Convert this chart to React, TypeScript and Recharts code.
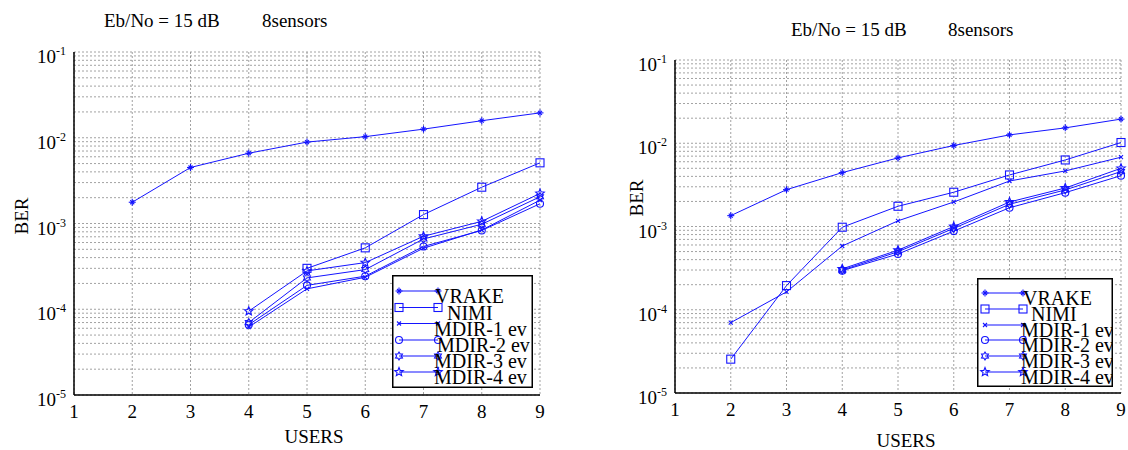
import React from "react";
import { LineChart, Line, XAxis, YAxis, CartesianGrid } from "recharts";

const users = [2, 3, 4, 5, 6, 7, 8, 9];
const xTicks = [1, 2, 3, 4, 5, 6, 7, 8, 9];
const decades = [1e-5, 1e-4, 1e-3, 1e-2, 1e-1];
const minorSteps = [1, 2, 3, 4, 5, 6, 7, 8, 9];

const seriesKeys = ["vrake", "nimi", "mdir1", "mdir2", "mdir3", "mdir4"];
const seriesNames = ["VRAKE", "NIMI", "MDIR-1 ev", "MDIR-2 ev", "MDIR-3 ev", "MDIR-4 ev"];
const seriesMarks = ["plus", "square", "cross", "circle", "hexagram", "pentagram"];

// left panel
const vrakeA = [1.77e-3, 4.5e-3, 6.6e-3, 8.9e-3, 1.03e-2, 1.26e-2, 1.58e-2, 1.95e-2];
const nimiA = [null, null, null, 3.0e-4, 5.2e-4, 1.27e-3, 2.65e-3, 5.1e-3];
const mdir1A = [null, null, 6.2e-5, 1.73e-4, 2.36e-4, 5.15e-4, 8.4e-4, 1.87e-3];
const mdir2A = [null, null, 6.6e-5, 1.9e-4, 2.43e-4, 5.4e-4, 8.3e-4, 1.7e-3];
const mdir3A = [null, null, 7.0e-5, 2.32e-4, 2.9e-4, 6.6e-4, 9.8e-4, 2.05e-3];
const mdir4A = [null, null, 9.5e-5, 2.8e-4, 3.5e-4, 7.1e-4, 1.06e-3, 2.24e-3];

// right panel
const vrakeB = [1.35e-3, 2.77e-3, 4.44e-3, 6.67e-3, 9.4e-3, 1.26e-2, 1.53e-2, 1.95e-2];
const nimiB = [2.55e-5, 1.95e-4, 9.8e-4, 1.75e-3, 2.58e-3, 4.16e-3, 6.3e-3, 1.02e-2];
const mdir1B = [7.0e-5, 1.64e-4, 5.83e-4, 1.17e-3, 1.97e-3, 3.52e-3, 4.65e-3, 6.8e-3];
const mdir2B = [null, null, 2.95e-4, 4.67e-4, 8.8e-4, 1.68e-3, 2.55e-3, 4.08e-3];
const mdir3B = [null, null, 3.0e-4, 4.98e-4, 9.5e-4, 1.85e-3, 2.75e-3, 4.57e-3];
const mdir4B = [null, null, 3.1e-4, 5.2e-4, 1.0e-3, 1.97e-3, 2.9e-3, 5.0e-3];

const BLUE = "#1414ff";
const FONT = '"Liberation Serif", "DejaVu Serif", serif';

const yTicks = decades.flatMap((d) => (d === 1e-1 ? [d] : minorSteps.map((m) => m * d)));

function buildRows(cols: (number | null)[][]) {
  return users.map((u, i) => {
    const row: any = { users: u };
    seriesKeys.forEach((k, j) => {
      row[k] = cols[j][i];
    });
    return row;
  });
}

const rowsA = buildRows([vrakeA, nimiA, mdir1A, mdir2A, mdir3A, mdir4A]);
const rowsB = buildRows([vrakeB, nimiB, mdir1B, mdir2B, mdir3B, mdir4B]);

function starPoints(cx: number, cy: number, n: number, ro: number, ri: number) {
  const pts: string[] = [];
  for (let i = 0; i < n * 2; i++) {
    const r = i % 2 === 0 ? ro : ri;
    const a = -Math.PI / 2 + (i * Math.PI) / n;
    pts.push(`${cx + r * Math.cos(a)},${cy + r * Math.sin(a)}`);
  }
  return pts.join(" ");
}

function Marker({ kind, cx, cy }: { kind: string; cx: number; cy: number }) {
  const s = { stroke: BLUE, strokeWidth: 1.1, fill: "none" };
  switch (kind) {
    case "plus":
      return (
        <g {...s}>
          <line x1={cx - 3.5} y1={cy} x2={cx + 3.5} y2={cy} />
          <line x1={cx} y1={cy - 3.5} x2={cx} y2={cy + 3.5} />
          <line x1={cx - 2} y1={cy - 2} x2={cx + 2} y2={cy + 2} />
          <line x1={cx - 2} y1={cy + 2} x2={cx + 2} y2={cy - 2} />
        </g>
      );
    case "square":
      return <rect x={cx - 4} y={cy - 4} width={8} height={8} {...s} />;
    case "cross":
      return (
        <g {...s}>
          <line x1={cx - 2} y1={cy - 2} x2={cx + 2} y2={cy + 2} />
          <line x1={cx - 2} y1={cy + 2} x2={cx + 2} y2={cy - 2} />
        </g>
      );
    case "circle":
      return <circle cx={cx} cy={cy} r={3.5} {...s} />;
    case "hexagram":
      return <polygon points={starPoints(cx, cy, 6, 4, 2.4)} {...s} />;
    default:
      return <polygon points={starPoints(cx, cy, 5, 4.5, 2)} {...s} />;
  }
}

function makeDot(kind: string) {
  return (p: any) => {
    if (p.value == null || p.cy == null || isNaN(p.cy)) return <g key={`n${p.index}`} />;
    return (
      <g key={`d${p.index}`}>
        <Marker kind={kind} cx={p.cx} cy={p.cy} />
      </g>
    );
  };
}

function YTick(props: any) {
  const { x, y, payload } = props;
  const e = Math.log10(payload.value);
  const r = Math.round(e);
  if (Math.abs(e - r) > 1e-6) return <g />;
  return (
    <text x={x} y={y + 11} textAnchor="end" fontFamily={FONT} fontSize={19} fill="#000">
      10
      <tspan dy={-8} fontSize={12}>
        {String(r)}
      </tspan>
    </text>
  );
}

interface LegendCfg {
  x: number;
  y: number;
  w: number;
  h: number;
  lx1: number;
  lx2: number;
  rows: number[];
  textX: number[];
}

function LegendBox({ cfg }: { cfg: LegendCfg }) {
  return (
    <svg
      width={cfg.w}
      height={cfg.h}
      style={{ position: "absolute", left: cfg.x, top: cfg.y, overflow: "hidden" }}
    >
      <rect x={0.75} y={0.75} width={cfg.w - 1.5} height={cfg.h - 1.5} fill="#fff" stroke="#000" strokeWidth={1.5} />
      {seriesNames.map((name, i) => (
        <g key={name}>
          <line x1={cfg.lx1} y1={cfg.rows[i]} x2={cfg.lx2} y2={cfg.rows[i]} stroke={BLUE} strokeWidth={1.2} />
          <Marker kind={seriesMarks[i]} cx={cfg.lx1} cy={cfg.rows[i]} />
          <Marker kind={seriesMarks[i]} cx={cfg.lx2} cy={cfg.rows[i]} />
          <text x={cfg.textX[i]} y={cfg.rows[i] + 12} fontFamily={FONT} fontSize={20} fill="#000">
            {name}
          </text>
        </g>
      ))}
    </svg>
  );
}

interface PanelCfg {
  left: number;
  rows: any[];
  margin: { top: number; right: number; bottom: number; left: number };
  title: { x1: number; x2: number; y: number };
  ber: { x: number; y: number };
  usersLabel: { x: number; y: number };
  legend: LegendCfg;
}

function Panel({ cfg }: { cfg: PanelCfg }) {
  const txt: React.CSSProperties = {
    position: "absolute",
    fontFamily: FONT,
    fontSize: 19,
    lineHeight: "19px",
    whiteSpace: "nowrap",
    color: "#000",
  };
  return (
    <>
      <div style={{ position: "absolute", left: cfg.left, top: 0 }}>
        <LineChart width={564} height={450} data={cfg.rows} margin={cfg.margin}>
          <CartesianGrid stroke="#8a8a8a" strokeDasharray="2 2" strokeWidth={0.8} />
          <XAxis
            dataKey="users"
            type="number"
            domain={[1, 9]}
            ticks={xTicks}
            height={30}
            tickLine={false}
            tickMargin={4}
            axisLine={{ stroke: "#000", strokeWidth: 1.5 }}
            tick={{ fontSize: 19, fill: "#000", fontFamily: FONT }}
          />
          <XAxis
            xAxisId="top"
            orientation="top"
            dataKey="users"
            type="number"
            domain={[1, 9]}
            height={0}
            tick={false}
            tickLine={false}
            axisLine={{ stroke: "#000", strokeWidth: 1.5 }}
          />
          <YAxis
            type="number"
            scale="log"
            domain={[1e-5, 1e-1]}
            allowDataOverflow
            ticks={yTicks}
            interval={0}
            width={64}
            tickLine={false}
            tickMargin={2}
            axisLine={{ stroke: "#000", strokeWidth: 1.5 }}
            tick={<YTick />}
          />
          <YAxis
            yAxisId="right"
            orientation="right"
            type="number"
            scale="log"
            domain={[1e-5, 1e-1]}
            allowDataOverflow
            width={0}
            tick={false}
            tickLine={false}
            axisLine={{ stroke: "#000", strokeWidth: 1.5 }}
          />
          {seriesKeys.map((k, i) => (
            <Line
              key={k}
              dataKey={k}
              name={seriesNames[i]}
              type="linear"
              stroke={BLUE}
              strokeWidth={1}
              dot={makeDot(seriesMarks[i])}
              activeDot={false}
              connectNulls={false}
              isAnimationActive={false}
            />
          ))}
        </LineChart>
      </div>
      <div style={{ ...txt, left: cfg.title.x1, top: cfg.title.y - 10 }}>Eb/No = 15 dB</div>
      <div style={{ ...txt, left: cfg.title.x2, top: cfg.title.y - 10 }}>8sensors</div>
      <div
        style={{
          ...txt,
          left: cfg.ber.x,
          top: cfg.ber.y,
          transform: "translate(-50%, -50%) rotate(-90deg)",
        }}
      >
        BER
      </div>
      <div style={{ ...txt, left: cfg.usersLabel.x, top: cfg.usersLabel.y, transform: "translate(-50%, -50%)" }}>
        USERS
      </div>
      <LegendBox cfg={cfg.legend} />
    </>
  );
}

const panelA: PanelCfg = {
  left: 0,
  rows: rowsA,
  margin: { top: 52, right: 24, bottom: 25, left: 10 },
  title: { x1: 104, x2: 262, y: 21 },
  ber: { x: 21, y: 216 },
  usersLabel: { x: 314, y: 436 },
  legend: {
    x: 392,
    y: 275,
    w: 141,
    h: 113,
    lx1: 7,
    lx2: 46,
    rows: [16, 32.5, 48.5, 65, 81, 97],
    textX: [43, 55, 42, 45, 42, 42],
  },
};

const panelB: PanelCfg = {
  left: 564,
  rows: rowsB,
  margin: { top: 60, right: 7, bottom: 27, left: 47 },
  title: { x1: 791, x2: 948, y: 30 },
  ber: { x: 636, y: 198 },
  usersLabel: { x: 906, y: 440 },
  legend: {
    x: 977,
    y: 278,
    w: 136,
    h: 109,
    lx1: 8,
    lx2: 46,
    rows: [15, 31, 47, 62, 78, 94],
    textX: [46, 54, 44, 44, 44, 44],
  },
};

export default function App() {
  return (
    <div style={{ position: "absolute", left: 0, top: 0, width: 1128, height: 450, background: "#fff", overflow: "hidden" }}>
      <Panel cfg={panelA} />
      <Panel cfg={panelB} />
    </div>
  );
}
